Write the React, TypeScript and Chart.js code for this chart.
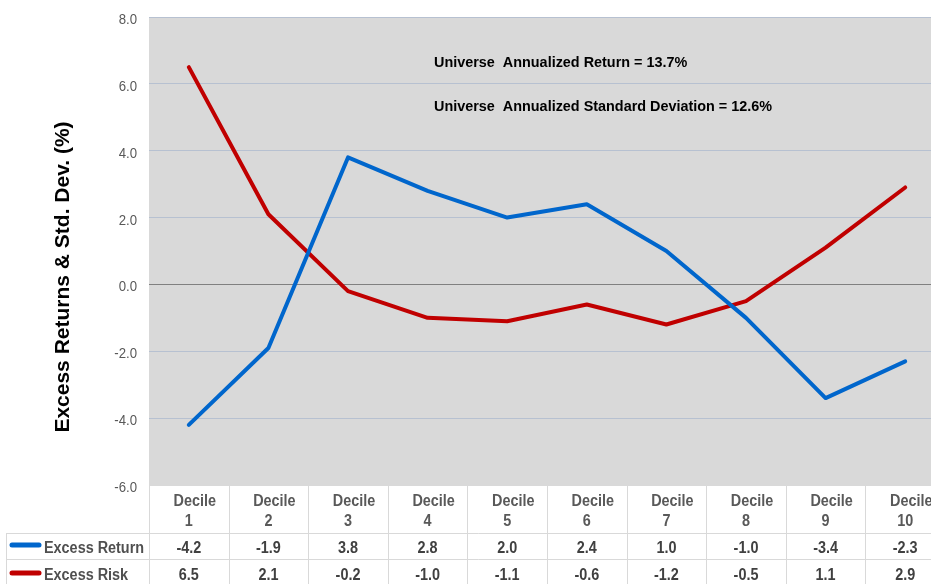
import React, { useEffect, useRef } from "react";
import { Chart, registerables } from "chart.js";

Chart.register(...registerables);

const categories: string[][] = [
  ["Decile", "1"], ["Decile", "2"], ["Decile", "3"], ["Decile", "4"], ["Decile", "5"],
  ["Decile", "6"], ["Decile", "7"], ["Decile", "8"], ["Decile", "9"], ["Decile", "10"],
];
const excessReturn = [-4.2, -1.9, 3.8, 2.8, 2.0, 2.4, 1.0, -1.0, -3.4, -2.3];
const excessRisk = [6.5, 2.1, -0.2, -1.0, -1.1, -0.6, -1.2, -0.5, 1.1, 2.9];
const seriesNames = ["Excess Return", "Excess Risk"];
const seriesColors = ["#0066cc", "#c00000"];
const yMin = -6;
const yMax = 8;
const yStep = 2;
const yTitle = "Excess Returns & Std. Dev. (%)";
const notes = [
  "Universe  Annualized Return = 13.7%",
  "Universe  Annualized Standard Deviation = 12.6%",
];

const FAMILY = '"Liberation Sans", Arial, sans-serif';

function txt(ctx: CanvasRenderingContext2D, s: string, x: number, y: number, align: CanvasTextAlign, sx: number) {
  ctx.save();
  ctx.translate(x, y);
  ctx.scale(sx, 1);
  ctx.textAlign = align;
  ctx.textBaseline = "alphabetic";
  ctx.fillText(s, 0, 0);
  ctx.restore();
}

const tablePlugin = {
  id: "tablePlugin",
  beforeDraw(chart: any) {
    const { ctx, chartArea } = chart;
    ctx.save();
    ctx.fillStyle = "#d9d9d9";
    ctx.fillRect(chartArea.left, chartArea.top, chartArea.right - chartArea.left, chartArea.bottom - chartArea.top);
    ctx.restore();
  },
  afterDraw(chart: any) {
    const { ctx, chartArea } = chart;
    const xs = chart.scales.x;
    const ys = chart.scales.y;
    const n = categories.length;
    const w = (chartArea.right - chartArea.left) / n;
    const H = chart.height;
    const W = chart.width;

    // y tick labels
    ctx.save();
    ctx.fillStyle = "#595959";
    ctx.font = `15px ${FAMILY}`;
    ys.ticks.forEach((t: any) => {
      const y = ys.getPixelForValue(t.value);
      txt(ctx, Number(t.value).toFixed(1), 137, y + 7, "right", 0.88);
    });
    ctx.restore();

    // y title
    ctx.save();
    ctx.fillStyle = "#000000";
    ctx.font = `bold 21px ${FAMILY}`;
    ctx.translate(69, 277);
    ctx.rotate(-Math.PI / 2);
    ctx.textAlign = "center";
    ctx.fillText(yTitle, 0, 0);
    ctx.restore();

    // notes
    ctx.save();
    ctx.fillStyle = "#000000";
    ctx.font = `bold 15px ${FAMILY}`;
    txt(ctx, notes[0], 434, 67, "left", 0.96);
    txt(ctx, notes[1], 434, 110.5, "left", 0.96);
    ctx.restore();

    // table grid
    const top = chartArea.bottom;
    const r1 = 533;
    const r2 = 559.5;
    ctx.save();
    ctx.strokeStyle = "#d9d9d9";
    ctx.lineWidth = 1;
    ctx.beginPath();
    for (let i = 0; i <= n; i++) {
      const x = Math.round(xs.getPixelForValue(0) - w / 2 + i * w) + 0.5;
      ctx.moveTo(x, top);
      ctx.lineTo(x, H);
    }
    ctx.moveTo(6.5, r1);
    ctx.lineTo(6.5, H);
    ctx.moveTo(6.5, r1 + 0.5);
    ctx.lineTo(W, r1 + 0.5);
    ctx.moveTo(6.5, r2);
    ctx.lineTo(W, r2);
    ctx.stroke();
    ctx.restore();

    // category labels
    ctx.save();
    ctx.fillStyle = "#595959";
    ctx.font = `bold 16px ${FAMILY}`;
    categories.forEach((c, i) => {
      const cx = xs.getPixelForValue(i);
      txt(ctx, c[0], cx + 6, 506, "center", 0.9);
      txt(ctx, c[1], cx, 526, "center", 0.9);
    });
    ctx.restore();

    // rows
    const rows = [excessReturn, excessRisk];
    const baselines = [553, 580];
    const markerY = [545, 573];
    rows.forEach((vals, r) => {
      ctx.save();
      ctx.strokeStyle = seriesColors[r];
      ctx.lineWidth = 5;
      ctx.lineCap = "round";
      ctx.beginPath();
      ctx.moveTo(12, markerY[r]);
      ctx.lineTo(39, markerY[r]);
      ctx.stroke();
      ctx.fillStyle = "#505050";
      ctx.font = `bold 16px ${FAMILY}`;
      txt(ctx, seriesNames[r], 44, baselines[r], "left", 0.9);
      ctx.fillStyle = "#404040";
      vals.forEach((v, i) => {
        const cx = xs.getPixelForValue(i);
        txt(ctx, v.toFixed(1), cx, baselines[r], "center", 0.9);
      });
      ctx.restore();
    });
  },
};

export default function App() {
  const ref = useRef<HTMLCanvasElement | null>(null);
  useEffect(() => {
    if (!ref.current) return;
    const chart = new Chart(ref.current, {
      type: "line",
      data: {
        labels: categories.map((c) => c.join(" ")),
        datasets: [
          {
            label: seriesNames[0],
            data: excessReturn,
            borderColor: seriesColors[0],
            backgroundColor: seriesColors[0],
            borderWidth: 4,
            pointRadius: 0,
            tension: 0,
            borderCapStyle: "round",
            borderJoinStyle: "round",
          },
          {
            label: seriesNames[1],
            data: excessRisk,
            borderColor: seriesColors[1],
            backgroundColor: seriesColors[1],
            borderWidth: 4,
            pointRadius: 0,
            tension: 0,
            borderCapStyle: "round",
            borderJoinStyle: "round",
          },
        ],
      },
      options: {
        responsive: false,
        animation: false,
        devicePixelRatio: 1,
        layout: { padding: { left: 0, right: 5, top: 17, bottom: 99 } },
        plugins: { legend: { display: false }, tooltip: { enabled: false } },
        scales: {
          x: {
            type: "category",
            offset: true,
            display: false,
          },
          y: {
            min: yMin,
            max: yMax,
            ticks: { stepSize: yStep, display: false },
            border: { display: false },
            grid: {
              drawTicks: false,
              color: (c: any) => (c.tick && c.tick.value === 0 ? "#808080" : c.tick && c.tick.value === yMin ? "#d9d9d9" : "#b7c1d1"),
              lineWidth: 1,
            },
            afterFit: (s: any) => {
              s.width = 149;
            },
          },
        },
      },
      plugins: [tablePlugin],
    });
    return () => chart.destroy();
  }, []);
  return (
    <div style={{ position: "fixed", left: 0, top: 0, width: 931, height: 584, overflow: "hidden", background: "#fff" }}>
      <canvas ref={ref} width={950} height={584} style={{ display: "block", width: 950, height: 584 }} />
    </div>
  );
}
